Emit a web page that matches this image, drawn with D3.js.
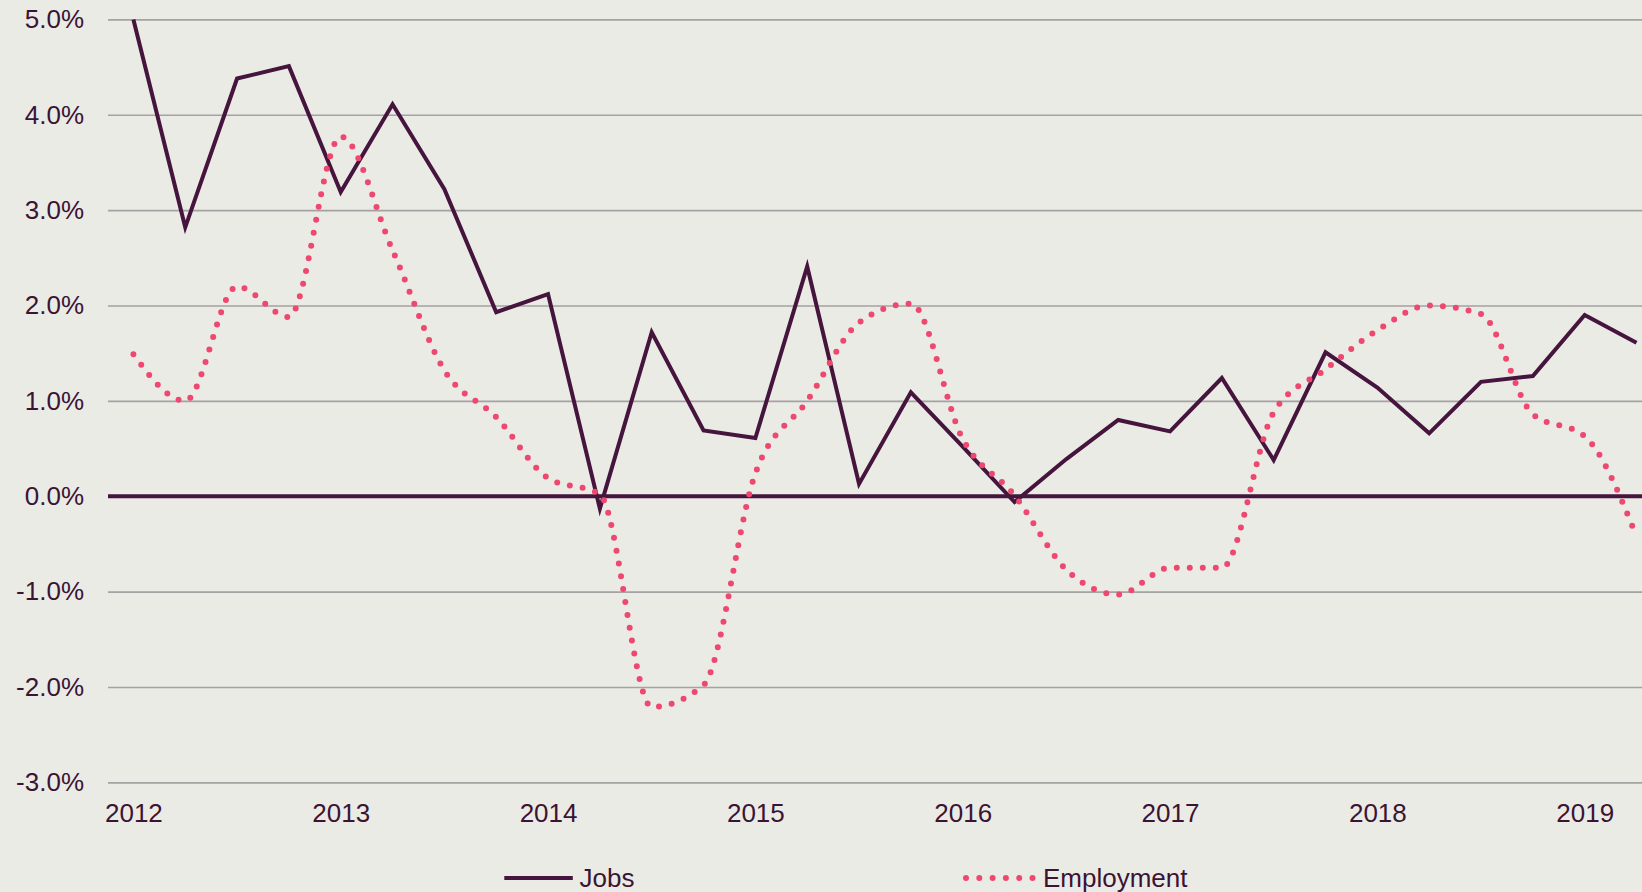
<!DOCTYPE html>
<html>
<head>
<meta charset="utf-8">
<script src="https://cdn.jsdelivr.net/npm/d3@7"></script>
<style>
  html, body { margin: 0; padding: 0; background: #ebebe6; }
  svg { display: block; font-family: 'Liberation Sans', Arial, sans-serif; }
</style>
</head>
<body>
<svg id="chart"></svg>
<script>
// Quarterly categories, 2012 Q1 .. 2019 Q2
const quarters = [
  '2012Q1', '2012Q2', '2012Q3', '2012Q4',
  '2013Q1', '2013Q2', '2013Q3', '2013Q4',
  '2014Q1', '2014Q2', '2014Q3', '2014Q4',
  '2015Q1', '2015Q2', '2015Q3', '2015Q4',
  '2016Q1', '2016Q2', '2016Q3', '2016Q4',
  '2017Q1', '2017Q2', '2017Q3', '2017Q4',
  '2018Q1', '2018Q2', '2018Q3', '2018Q4',
  '2019Q1', '2019Q2'
];
const yearTicks = ['2012Q1', '2013Q1', '2014Q1', '2015Q1', '2016Q1', '2017Q1', '2018Q1', '2019Q1'];
const yTicks = [-3, -2, -1, 0, 1, 2, 3, 4, 5];

// Annual growth, %
const jobs = [
  5.0, 2.82, 4.38, 4.51, 3.19, 4.11, 3.22, 1.93,
  2.12, -0.13, 1.72, 0.69, 0.61, 2.41, 0.13, 1.09,
  0.52, -0.06, 0.39, 0.80, 0.68, 1.24, 0.38, 1.51,
  1.14, 0.66, 1.20, 1.26, 1.90, 1.61
];
const employment = [
  1.49, 1.00, 2.20, 1.88, 3.77, 2.58, 1.32, 0.83,
  0.19, 0.02, -2.21, -1.98, 0.24, 1.00, 1.82, 2.02,
  0.60, 0.01, -0.77, -1.03, -0.75, -0.75, 0.88, 1.33,
  1.74, 2.00, 1.91, 0.86, 0.63, -0.42
];

const width = 1642,
      height = 892,
      plot = { left: 108, right: 1642, top: 19.4, bottom: 782.4 },
      colors = { jobs: '#45153d', employment: '#ee4870', text: '#3b1434', grid: '#a6a1a2' };

const svg = d3.select('#chart')
  .attr('width', width)
  .attr('height', height)
  .attr('viewBox', `0 0 ${width} ${height}`);

svg.append('rect')
  .attr('width', width)
  .attr('height', height)
  .attr('fill', '#ebebe6');

const x = d3.scalePoint()
  .domain(quarters)
  .range([133.4, 1636.5]);

const y = d3.scaleLinear()
  .domain([-3, 5])
  .range([plot.bottom, plot.top]);

// Gridlines + Y-Axis labels
const yAxis = svg.append('g')
  .attr('transform', `translate(${plot.left},0)`)
  .call(d3.axisLeft(y)
    .tickValues(yTicks)
    .tickSize(-(plot.right - plot.left))
    .tickPadding(24)
    .tickFormat(d => d.toFixed(1) + '%'));

yAxis.select('.domain').remove();
yAxis.selectAll('line')
  .attr('stroke', colors.grid)
  .attr('stroke-width', 1.6);
yAxis.selectAll('text')
  .attr('fill', colors.text)
  .style('font-size', '26px');

// X-Axis labels (year at each Q1)
const xAxis = svg.append('g')
  .attr('transform', `translate(0,${plot.bottom})`)
  .call(d3.axisBottom(x)
    .tickValues(yearTicks)
    .tickSize(0)
    .tickPadding(21)
    .tickFormat(d => d.slice(0, 4)));

xAxis.select('.domain').remove();
xAxis.selectAll('text')
  .attr('fill', colors.text)
  .style('font-size', '26px');

// Zero line
svg.append('line')
  .attr('x1', plot.left)
  .attr('x2', plot.right)
  .attr('y1', y(0))
  .attr('y2', y(0))
  .attr('stroke', colors.jobs)
  .attr('stroke-width', 4);

// Jobs - straight segments
const jobsLine = d3.line()
  .x((d, i) => x(quarters[i]))
  .y(d => y(d));

svg.append('path')
  .datum(jobs)
  .attr('d', jobsLine)
  .attr('fill', 'none')
  .attr('stroke', colors.jobs)
  .attr('stroke-width', 4)
  .attr('stroke-linejoin', 'miter');

// Employment - smoothed, round dotted
const employmentLine = d3.line()
  .x((d, i) => x(quarters[i]))
  .y(d => y(d))
  .curve(d3.curveMonotoneX);

svg.append('path')
  .datum(employment)
  .attr('d', employmentLine)
  .attr('fill', 'none')
  .attr('stroke', colors.employment)
  .attr('stroke-width', 6)
  .attr('stroke-linecap', 'round')
  .attr('stroke-dasharray', '0 13');

// Legend
const legend = svg.append('g')
  .attr('transform', 'translate(0,878)');

legend.append('line')
  .attr('x1', 504.3)
  .attr('x2', 572.8)
  .attr('stroke', colors.jobs)
  .attr('stroke-width', 4);

legend.append('text')
  .attr('x', 579.5)
  .attr('y', 9.3)
  .attr('fill', colors.text)
  .style('font-size', '26px')
  .text('Jobs');

legend.append('line')
  .attr('x1', 966)
  .attr('x2', 1033.5)
  .attr('stroke', colors.employment)
  .attr('stroke-width', 6)
  .attr('stroke-linecap', 'round')
  .attr('stroke-dasharray', '0 13.3');

legend.append('text')
  .attr('x', 1043)
  .attr('y', 9.3)
  .attr('fill', colors.text)
  .style('font-size', '26px')
  .text('Employment');
</script>
</body>
</html>
